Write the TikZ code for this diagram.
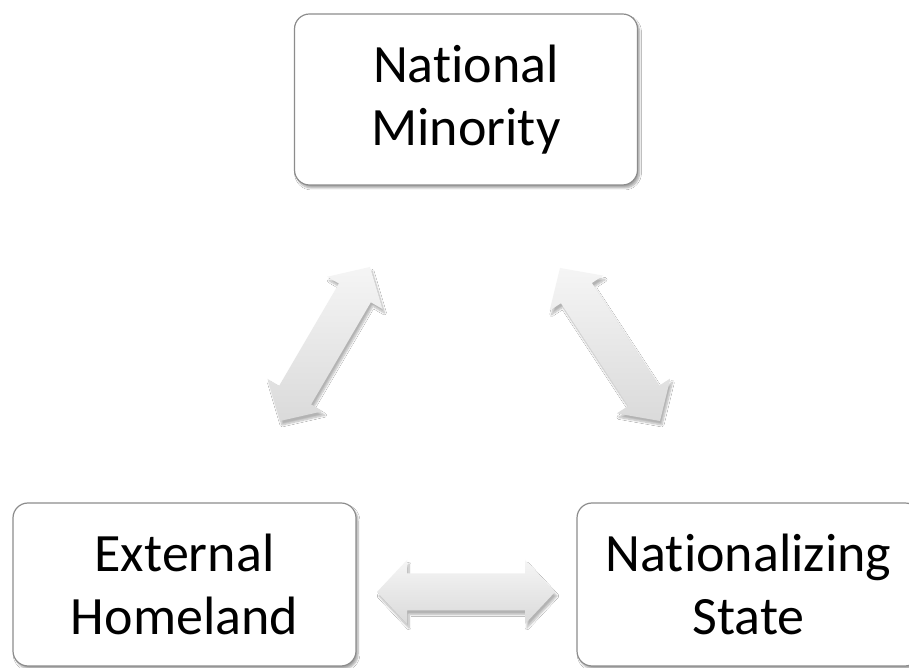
\documentclass[tikz,border=0pt]{standalone}
\usepackage{fontspec}
\setmainfont{Carlito}[Ligatures=NoCommon]
\usetikzlibrary{calc,shadows.blur}
\definecolor{boxline}{HTML}{8C8C8C}
\definecolor{arrtop}{HTML}{F5F5F5}
\definecolor{arrbot}{HTML}{DADADA}
\tikzset{
  boxnode/.style={draw=boxline, line width=1.2pt, fill=white, rounded corners=15pt,
    minimum width=343pt, align=center, inner sep=0pt,
    font=\fontsize{54}{63}\selectfont,
    blur shadow={shadow xshift=2pt, shadow yshift=-3pt, shadow opacity=35, shadow blur steps=6, shadow blur extra rounding=2pt}},
  blockarrow/.style={top color=arrtop, bottom color=arrbot, draw=none,
    blur shadow={shadow xshift=2pt, shadow yshift=-4pt, shadow opacity=30, shadow blur steps=8}}
}
\newcommand\dblblock[2]{%
  \path[blockarrow] (#1)
   -- ($(#1)!30pt!(#2)!32pt!90:(#2)$)
   -- ($(#1)!30pt!(#2)!18.5pt!90:(#2)$)
   -- ($(#2)!30pt!(#1)!18.5pt!-90:(#1)$)
   -- ($(#2)!30pt!(#1)!32pt!-90:(#1)$)
   -- (#2)
   -- ($(#2)!30pt!(#1)!32pt!90:(#1)$)
   -- ($(#2)!30pt!(#1)!18.5pt!90:(#1)$)
   -- ($(#1)!30pt!(#2)!18.5pt!-90:(#2)$)
   -- ($(#1)!30pt!(#2)!32pt!-90:(#2)$)
   -- cycle;}
\begin{document}
\begin{tikzpicture}[x=1pt,y=1pt]
\clip (0,0) rectangle (909,668);
\fill[white] (0,0) rectangle (909,668);
\node[boxnode, minimum height=171pt] (nm) at (466,568.5) {National\\Minority};
\node[boxnode, minimum height=163pt] (eh) at (184.5,83.5) {External\\Homeland};
\node[boxnode, minimum height=163pt] (ns) at (748.5,83.5) {Nationalizing\\State};
\coordinate (l1) at (280,247);
\coordinate (l2) at (370,401);
\coordinate (r1) at (560,400);
\coordinate (r2) at (660,247);
\coordinate (h1) at (377,76);
\coordinate (h2) at (555,76);
\dblblock{l1}{l2}
\dblblock{r1}{r2}
\dblblock{h1}{h2}
\end{tikzpicture}
\end{document}
